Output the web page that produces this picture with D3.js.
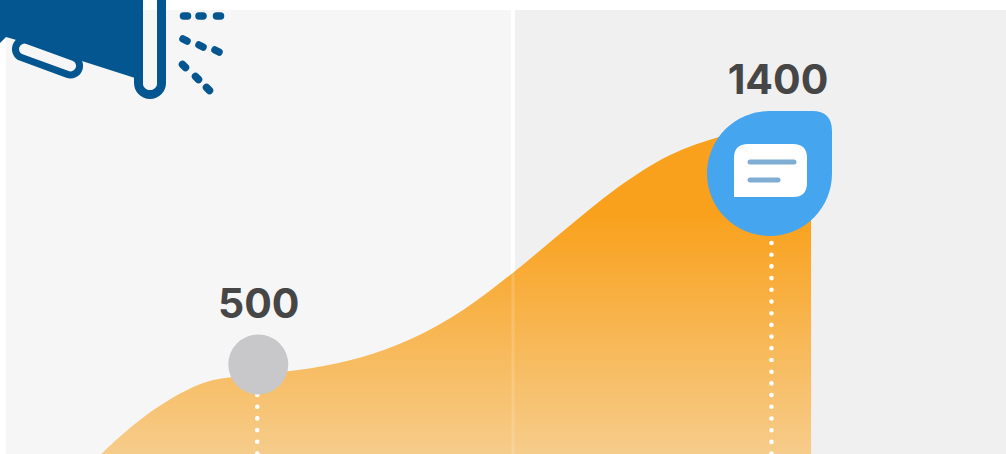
<!DOCTYPE html>
<html><head><meta charset="utf-8">
<script src="https://cdn.jsdelivr.net/npm/d3@7/dist/d3.min.js"></script>
<style>html,body{margin:0;padding:0;background:#fff;overflow:hidden}svg{display:block}text{font-family:Inter,"Open Sans",sans-serif;font-weight:700;fill:#464646}</style>
</head><body><svg id="c" width="1006" height="454"></svg>
<script>
const steps=[-0.2,0,1,2,3,4,5,6,7,8,9,10,11,12,13,13.76];
const values=[180,222,376,473,500,522,561,629,733,871,1025,1172,1287,1355,1400,1425];
const labelSteps=[3,13];
const labelValues=[500,1400];

const W=1006,H=454;
const x=d3.scaleLinear().domain([0,13]).range([103.5,772]);
const y=d3.scaleLinear().domain([500,1400]).range([374.5,124]);
const svg=d3.select('#c');
const defs=svg.append('defs');
const g=defs.append('linearGradient').attr('id','fill').attr('gradientUnits','userSpaceOnUse')
 .attr('x1',0).attr('x2',0).attr('y1',215).attr('y2',470);
g.append('stop').attr('offset',0).attr('stop-color','#f9a11c');
g.append('stop').attr('offset',1).attr('stop-color','#f6cf92');

// panels
svg.append('rect').attr('x',6).attr('y',10).attr('width',505).attr('height',H-10).attr('fill','#f6f6f6');
svg.append('rect').attr('x',515).attr('y',10).attr('width',W-515).attr('height',H-10).attr('fill','#f0f0f0');

// area
const pts=steps.map((s,i)=>({s,v:values[i]}));
svg.append('path').datum(pts).attr('fill','url(#fill)')
 .attr('d',d3.area().x(d=>x(d.s)).y0(H+2).y1(d=>y(d.v)).curve(d3.curveCatmullRom.alpha(0.5)));
svg.append('rect').attr('x',511.5).attr('y',10).attr('width',3).attr('height',H-10).attr('fill','#fff').attr('opacity',.16);

// dotted drops
[[labelSteps[0],395],[labelSteps[1],243]].forEach(([s,y0])=>{
 svg.append('line').attr('x1',x(s)-.5).attr('x2',x(s)-.5).attr('y1',y0).attr('y2',H+4)
  .attr('stroke','#fff').attr('stroke-width',4.6).attr('stroke-linecap','round').attr('stroke-dasharray','0 11.7');
});

// markers
const cx0=x(labelSteps[0]), cy0=y(labelValues[0])-10;
svg.append('circle').attr('cx',cx0+.5).attr('cy',cy0).attr('r',30).attr('fill','#c8c8ca');
const bx=769,by=173.5,r=62.5;
svg.append('path').attr('fill','#45a5ee')
 .attr('d',`M${bx},${by-r}H${bx+43}Q${bx+63},${by-r} ${bx+63},${by-r+20}V${by}A${r} ${r} 0 1 1 ${bx},${by-r}Z`);
svg.append('path').attr('fill','#fff')
 .attr('d','M748,144H793Q807,144 807,158V183Q807,197 793,197H734V158Q734,144 748,144Z');
[[750,794,162],[750,778,180]].forEach(([a,b,c])=>svg.append('line').attr('x1',a).attr('x2',b).attr('y1',c).attr('y2',c)
 .attr('stroke','#7fadd4').attr('stroke-width',5).attr('stroke-linecap','round'));

// labels
svg.append('text').attr('x',cx0+1).attr('y',318).attr('text-anchor','middle').attr('font-size',41).text(labelValues[0]);
svg.append('text').attr('x',778).attr('y',94).attr('text-anchor','middle').attr('font-size',41).text(labelValues[1]);

// megaphone
const blue='#03568f';
svg.append('rect').attr('x',14).attr('y',48.5).attr('width',67).attr('height',18).attr('rx',9)
 .attr('transform','rotate(20 47.5 57.5)').attr('fill','#f6f6f6').attr('stroke',blue).attr('stroke-width',7);
svg.append('path').attr('fill',blue).attr('d','M0,0H142V80L135,78L85,62L13,39L6,37L0,43Z');
svg.append('path').attr('fill','#fff').attr('stroke',blue).attr('stroke-width',9)
 .attr('d','M138.5,-5V83A11.5,11.5 0 0 0 161.5,83V-5Z');
svg.append('path').attr('fill','#f6f6f6').attr('d','M143,10H157V83A7,7 0 0 1 143,83Z');
[[183.5,16,187.5,16],[199,16,203,16],[216.5,16,220.5,16],
 [183,39,187,41],[199,45,203,47],[215,50,219,52],
 [182.5,64.5,185.5,67.5],[195.5,76.5,198.5,79.5],[206.5,87.5,209.5,90.5]].forEach(([a,b,c,d])=>
 svg.append('line').attr('x1',a).attr('y1',b).attr('x2',c).attr('y2',d).attr('stroke',blue).attr('stroke-width',7.5).attr('stroke-linecap','round'));
</script></body></html>
